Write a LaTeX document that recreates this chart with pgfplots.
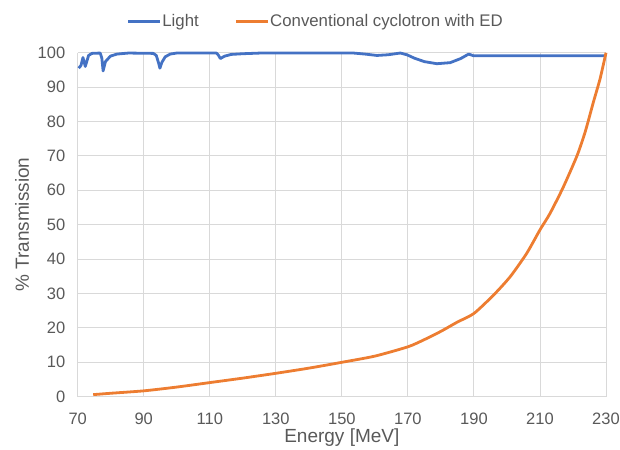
\documentclass[border=0pt]{standalone}
\usepackage{fontspec}
\setmainfont{Liberation Sans}
\usepackage{pgfplots}
\pgfplotsset{compat=1.18}
\definecolor{cblue}{HTML}{4472C4}
\definecolor{corange}{HTML}{ED7D31}
\definecolor{ctext}{HTML}{595959}
\definecolor{cgrid}{HTML}{D9D9D9}
\begin{document}
\begin{tikzpicture}
\path[use as bounding box] (-77.7bp,-53.3bp) rectangle (542.3bp,396.7bp);
\begin{axis}[
  at={(0,0)}, anchor=south west,
  scale only axis,
  width=528.3bp, height=344bp,
  xmin=70, xmax=230, ymin=0, ymax=100,
  xtick={70,90,...,230}, ytick={0,10,...,100},
  grid=major,
  grid style={cgrid, line width=0.9bp},
  axis line style={draw=none},
  major tick length=0pt,
  clip=false,
  /pgf/number format/assume math mode=true,
  ticklabel style={font=\fontsize{16.5bp}{19bp}\selectfont, text=ctext},
  xticklabel style={yshift=-12.5bp},
  yticklabel style={xshift=-8.9bp},
  xlabel={Energy [MeV]},
  ylabel={\% Transmission},
  label style={font=\fontsize{19bp}{22bp}\selectfont, text=ctext},
  xlabel style={at={(axis description cs:0.5,-0.12)}, anchor=center},
  ylabel style={at={(axis description cs:-0.1054,0.5)}, anchor=center},
  legend columns=2,
  legend cell align=left,
  legend image code/.code={\draw[#1] (0bp,0bp) -- (32bp,0bp);},
  legend style={at={(axis description cs:0.0925,1.0907)}, anchor=west,
    draw=none, fill=none, inner sep=0pt,
    font=\fontsize{16.8bp}{19bp}\selectfont, text=ctext,
    nodes={inner sep=0.8bp},
    /tikz/every even column/.append style={column sep=35bp}},
]
\addplot[cblue, line width=2.8bp, line join=round] coordinates {
(70.3,95.5) (71.0,96.3) (71.6,98.6) (72.3,96.0) (73.3,99.2) (74.3,99.8)
(76.8,99.9) (77.3,98.5) (77.7,94.7) (78.4,97.4) (79.9,99.0) (81.9,99.6)
(85.4,99.9) (92.9,99.8) (93.8,99.2) (94.5,97.0) (94.9,95.5) (95.5,97.2)
(96.5,98.8) (98.0,99.6) (100,99.9) (112.0,99.9) (112.6,99.3) (113.2,98.3)
(114.5,99.0) (116.5,99.5) (120,99.7) (125.4,99.9) (153.5,99.9) (157,99.6)
(160.6,99.2) (164,99.4) (167.7,99.9) (169.7,99.4) (172,98.4) (175,97.4)
(178.8,96.8) (182.8,97.1) (186,98.3) (188.4,99.6) (189.9,99.1) (230,99.1)
};
\addlegendentry{Light}
\addplot[corange, line width=2.8bp, smooth, tension=0.4] coordinates {
(74.7,0.6) (80,1.0) (90,1.7) (100,2.8) (110,4.1) (120,5.4) (130,6.8)
(140,8.3) (150,10.0) (160,11.8) (170,14.5) (175,16.6) (180,19.0)
(185,21.7) (190,24.2) (196,29.6) (201,34.9) (206,41.7) (210,48.5)
(213,53.2) (217,60.8) (221.2,70.0) (223.7,77.0) (226.2,85.7) (228.2,92.4)
(230,100)
};
\addlegendentry{Conventional cyclotron with ED}
\end{axis}
\end{tikzpicture}
\end{document}
